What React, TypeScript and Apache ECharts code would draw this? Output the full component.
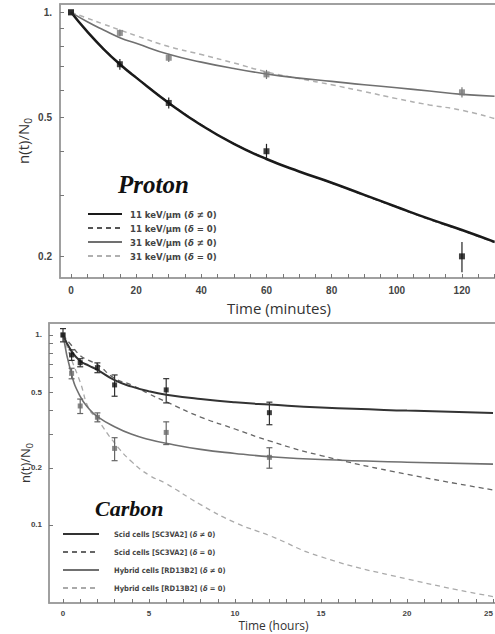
import React, { useEffect, useRef } from "react";
import * as echarts from "echarts";

// ---------- Proton panel (minutes) ----------
const protonTimes = [0, 15, 30, 60, 120];
const p11Values = [1.0, 0.71, 0.55, 0.4, 0.2];
const p11Err = [0, 0.025, 0.02, 0.02, 0.02];
const p31Values = [1.0, 0.873, 0.741, 0.664, 0.59];
const p31Err = [0, 0.02, 0.02, 0.02, 0.02];

const protonFitTimes = [0, 5, 10, 15, 20, 30, 40, 50, 60, 70, 80, 90, 100, 110, 120, 130];
const fit11Solid = [1, 0.88, 0.785, 0.71, 0.65, 0.55, 0.475, 0.42, 0.38, 0.35, 0.325, 0.3, 0.277, 0.256, 0.238, 0.22];
const fit11Dashed = [1, 0.88, 0.786, 0.712, 0.652, 0.552, 0.477, 0.421, 0.381, 0.35, 0.324, 0.299, 0.276, 0.255, 0.237, 0.219];
const fit31Solid = [1, 0.94, 0.89, 0.846, 0.815, 0.758, 0.72, 0.69, 0.666, 0.648, 0.634, 0.62, 0.608, 0.595, 0.582, 0.575];
const fit31Dashed = [1, 0.962, 0.925, 0.89, 0.857, 0.798, 0.757, 0.716, 0.675, 0.646, 0.62, 0.593, 0.566, 0.543, 0.524, 0.496];

const protonXLabels = [0, 20, 40, 60, 80, 100, 120];
const protonXTicks = [0, 5, 10, 15, 20, 25, 30, 35, 40, 45, 50, 55, 60, 65, 70, 75, 80, 85, 90, 95, 100, 105, 110, 115, 120, 125, 130];
const protonYLabels = [0.2, 0.5, 1];
const protonYTicks = [0.2, 0.3, 0.4, 0.5, 0.6, 0.7, 0.8, 0.9, 1];

const protonNames = [
  "11 keV/μm (δ ≠ 0)",
  "11 keV/μm (δ = 0)",
  "31 keV/μm (δ ≠ 0)",
  "31 keV/μm (δ = 0)",
];

// ---------- Carbon panel (hours) ----------
const carbonTimes = [0, 0.5, 1, 2, 3, 6, 12];
const scidValues = [1.0, 0.785, 0.715, 0.673, 0.546, 0.514, 0.39];
const scidErr = [0.08, 0.05, 0.035, 0.04, 0.07, 0.075, 0.053];
const hybridValues = [1.0, 0.628, 0.423, 0.369, 0.253, 0.307, 0.227];
const hybridErr = [0, 0.04, 0.037, 0.02, 0.035, 0.042, 0.028];

const carbonFitTimes = [0, 0.5, 1, 1.5, 2, 3, 4, 5, 6, 8, 10, 12, 15, 20, 25];
const scidSolid = [1, 0.82, 0.73, 0.69, 0.655, 0.578, 0.535, 0.505, 0.485, 0.46, 0.442, 0.43, 0.415, 0.4, 0.389];
const scidDashed = [1, 0.88, 0.78, 0.735, 0.7, 0.592, 0.545, 0.49, 0.445, 0.37, 0.32, 0.277, 0.232, 0.185, 0.153];
const hybridSolid = [1, 0.618, 0.475, 0.41, 0.372, 0.329, 0.3, 0.282, 0.269, 0.25, 0.238, 0.229, 0.221, 0.214, 0.209];
const hybridDashed = [1, 0.74, 0.565, 0.41, 0.36, 0.27, 0.215, 0.183, 0.165, 0.128, 0.103, 0.088, 0.068, 0.052, 0.042];

const carbonXLabels = [0, 5, 10, 15, 20, 25];
const carbonXTicks = [0, 1, 2, 3, 4, 5, 6, 7, 8, 9, 10, 11, 12, 13, 14, 15, 16, 17, 18, 19, 20, 21, 22, 23, 24, 25];
const carbonYLabels = [0.1, 0.2, 0.5, 1];
const carbonYTicks = [0.1, 0.2, 0.3, 0.4, 0.5, 0.6, 0.7, 0.8, 0.9, 1];

const carbonNames = [
  "Scid cells [SC3VA2] (δ ≠ 0)",
  "Scid cells [SC3VA2] (δ = 0)",
  "Hybrid cells [RD13B2] (δ ≠ 0)",
  "Hybrid cells [RD13B2] (δ = 0)",
];

const lg = (v: number) => Math.log10(v);
const pts = (xs: number[], ys: number[]) => xs.map((x, i) => [x, lg(ys[i])]);
const errs = (xs: number[], ys: number[], es: number[]) =>
  xs
    .map((x, i) => (es[i] > 0 ? [x, lg(ys[i] - es[i]), lg(ys[i] + es[i])] : null))
    .filter((d) => d !== null);

const labelFmt = (v: number) => {
  const r = Math.pow(10, v);
  if (Math.abs(r - 1) < 1e-6) return "1.";
  return String(Math.round(r * 10) / 10);
};

const TICK_FONT = '"Liberation Sans", Arial, sans-serif';
const NARROW = '"Liberation Sans Narrow", "Arial Narrow", "DejaVu Sans Condensed", "Liberation Sans", sans-serif';
const FRAME = "#9a9a9a";

function errorBar(cap: number, color: string, xi: number, yi: number) {
  return {
    type: "custom",
    xAxisIndex: xi,
    yAxisIndex: yi,
    encode: { x: 0, y: [1, 2] },
    z: 4,
    renderItem: (params: any, api: any) => {
      const x = api.value(0);
      const p1 = api.coord([x, api.value(1)]);
      const p2 = api.coord([x, api.value(2)]);
      const style = { stroke: color, lineWidth: 1.2 };
      const children: any[] = [
        { type: "line", shape: { x1: p1[0], y1: p1[1], x2: p2[0], y2: p2[1] }, style },
      ];
      if (cap > 0) {
        children.push({ type: "line", shape: { x1: p1[0] - cap, y1: p1[1], x2: p1[0] + cap, y2: p1[1] }, style });
        children.push({ type: "line", shape: { x1: p2[0] - cap, y1: p2[1], x2: p2[0] + cap, y2: p2[1] }, style });
      }
      return { type: "group", children };
    },
  };
}

export default function App() {
  const ref = useRef<HTMLDivElement>(null);
  useEffect(() => {
    if (!ref.current) return;
    const chart = echarts.init(ref.current, null, { renderer: "svg" });
    const frame = { show: true, borderColor: FRAME, borderWidth: 1.5, backgroundColor: "#fff", outerBoundsMode: "none", containLabel: false };
    const axisLine = { show: true, onZero: false, lineStyle: { color: FRAME, width: 1.5 } };
    const xAxisCommon = (labels: number[], ticks: number[], fs: number, margin: number) => ({
      type: "value",
      axisLine,
      splitLine: { show: false },
      axisTick: { show: true, inside: true, length: 4, customValues: ticks, lineStyle: { color: "#777" } },
      axisLabel: { customValues: labels, fontSize: fs, fontWeight: "bold", color: "#444", fontFamily: TICK_FONT, margin },
    });
    const yAxisCommon = (labels: number[], ticks: number[], fs: number, margin: number) => ({
      type: "value",
      axisLine,
      splitLine: { show: false },
      axisTick: { show: true, inside: true, length: 4, customValues: ticks.map(lg), lineStyle: { color: "#777" } },
      axisLabel: {
        customValues: labels.map(lg),
        formatter: labelFmt,
        fontSize: fs,
        fontWeight: "bold",
        color: "#444",
        fontFamily: TICK_FONT,
        margin,
      },
    });
    const topBorder = (gi: number, min: number, max: number) => ({
      type: "value",
      gridIndex: gi,
      position: "top",
      min,
      max,
      axisLine,
      axisTick: { show: false },
      axisLabel: { show: false },
      splitLine: { show: false },
    });
    const legendRich = (fs: number) => ({
      i: { fontStyle: "italic", fontWeight: "bold", fontSize: fs, color: "#444", fontFamily: NARROW },
    });
    const fmt = (name: string) => name.replace("δ", "{i|δ}");

    const line = (name: string, xs: number[], ys: number[], xi: number, color: string, width: number, dashed: boolean, z: number) => ({
      type: "line",
      name,
      xAxisIndex: xi,
      yAxisIndex: xi,
      data: pts(xs, ys),
      smooth: true,
      symbol: "none",
      lineStyle: { color, width, type: dashed ? [5, 4] : "solid" },
      itemStyle: { color },
      z,
    });
    const scatter = (name: string, xs: number[], ys: number[], xi: number, color: string, size: number) => ({
      type: "scatter",
      name,
      xAxisIndex: xi,
      yAxisIndex: xi,
      data: pts(xs, ys),
      symbol: "rect",
      symbolSize: size,
      itemStyle: { color },
      z: 5,
    });

    chart.setOption({
      animation: false,
      backgroundColor: "#fff",
      grid: [
        { left: 60, top: 4, right: -3, height: 274, ...frame },
        { left: 49, top: 323, right: -3, height: 280, ...frame },
      ],
      xAxis: [
        {
          gridIndex: 0,
          min: -3.376,
          max: 131.06,
          ...xAxisCommon(protonXLabels, protonXTicks, 10, 7),
          name: "Time (minutes)",
          nameLocation: "middle",
          nameGap: 22,
          nameMoveOverlap: false,
          nameTextStyle: { fontSize: 15, color: "#333", fontFamily: '"Open Sans", sans-serif' },
        },
        {
          gridIndex: 1,
          min: -0.814,
          max: 25.29,
          ...xAxisCommon(carbonXLabels, carbonXTicks, 8, 6),
          axisLabel: {
            customValues: carbonXLabels,
            fontSize: 8,
            fontWeight: "bold",
            color: "#444",
            fontFamily: TICK_FONT,
            margin: 6,
            alignMaxLabel: "right",
          },
          name: "Time (hours)",
          nameLocation: "middle",
          nameGap: 16,
          nameMoveOverlap: false,
          nameTextStyle: { fontSize: 12, color: "#333", fontFamily: '"Open Sans", sans-serif' },
        },
        topBorder(0, -3.376, 131.06),
        topBorder(1, -0.814, 25.29),
      ],
      yAxis: [
        {
          gridIndex: 0,
          min: -0.761,
          max: 0.0238,
          ...yAxisCommon(protonYLabels, protonYTicks, 10, 8),
          name: "{a|n(t)/N}{b|0}",
          nameLocation: "middle",
          nameGap: 27,
          nameMoveOverlap: false,
          nameTextStyle: {
            rich: {
              a: { fontSize: 15, color: "#333", fontFamily: '"Open Sans", sans-serif', lineHeight: 20 },
              b: { fontSize: 10, color: "#333", fontFamily: '"Open Sans", sans-serif', verticalAlign: "bottom", lineHeight: 20, padding: [6, 0, 0, 0] },
            },
          },
        },
        {
          gridIndex: 1,
          min: -1.4105,
          max: 0.063,
          ...yAxisCommon(carbonYLabels, carbonYTicks, 8, 7),
          name: "{a|n(t)/N}{b|0}",
          nameLocation: "middle",
          nameGap: 15,
          nameMoveOverlap: false,
          nameTextStyle: {
            rich: {
              a: { fontSize: 13, color: "#333", fontFamily: '"Open Sans", sans-serif', lineHeight: 18 },
              b: { fontSize: 9, color: "#333", fontFamily: '"Open Sans", sans-serif', verticalAlign: "bottom", lineHeight: 18, padding: [5, 0, 0, 0] },
            },
          },
        },
      ],
      legend: [
        {
          data: protonNames,
          orient: "vertical",
          left: 87,
          top: 209,
          padding: 0,
          itemWidth: 34,
          itemHeight: 10,
          itemGap: 4,
          formatter: fmt,
          itemStyle: { opacity: 0 },
          textStyle: { fontSize: 9.5, fontWeight: "bold", color: "#444", fontFamily: NARROW, padding: [0, 0, 0, 3], rich: legendRich(9.5) },
          selectedMode: false,
        },
        {
          data: carbonNames,
          orient: "vertical",
          left: 62,
          top: 530,
          padding: 0,
          itemWidth: 36,
          itemHeight: 10,
          itemGap: 10,
          formatter: fmt,
          itemStyle: { opacity: 0 },
          textStyle: { fontSize: 7.5, fontWeight: "bold", color: "#444", fontFamily: NARROW, padding: [0, 0, 0, 10], rich: legendRich(7.5) },
          selectedMode: false,
        },
      ],
      graphic: [
        {
          type: "text",
          left: 118,
          top: 172,
          style: { text: "Proton", font: 'italic bold 25px "Liberation Serif", "Times New Roman", serif', fill: "#111" },
        },
        {
          type: "text",
          left: 95,
          top: 497,
          style: { text: "Carbon", font: 'italic bold 22px "Liberation Serif", "Times New Roman", serif', fill: "#111" },
        },
      ],
      series: [
        line(protonNames[3], protonFitTimes, fit31Dashed, 0, "#b0b0b0", 1.5, true, 2),
        line(protonNames[1], protonFitTimes, fit11Dashed, 0, "#555555", 1.2, true, 2),
        line(protonNames[2], protonFitTimes, fit31Solid, 0, "#707070", 1.6, false, 3),
        line(protonNames[0], protonFitTimes, fit11Solid, 0, "#1a1a1a", 2.5, false, 3),
        { ...errorBar(0, "#777", 0, 0), name: "err31", data: errs(protonTimes, p31Values, p31Err) },
        { ...errorBar(0, "#222", 0, 0), name: "err11", data: errs(protonTimes, p11Values, p11Err) },
        scatter("31 keV data", protonTimes, p31Values, 0, "#7a7a7a", 6),
        scatter("11 keV data", protonTimes, p11Values, 0, "#111", 6),

        line(carbonNames[3], carbonFitTimes, hybridDashed, 1, "#aaaaaa", 1.3, true, 2),
        line(carbonNames[1], carbonFitTimes, scidDashed, 1, "#666666", 1.3, true, 2),
        line(carbonNames[2], carbonFitTimes, hybridSolid, 1, "#707070", 1.6, false, 3),
        line(carbonNames[0], carbonFitTimes, scidSolid, 1, "#333333", 2, false, 3),
        { ...errorBar(3, "#666", 1, 1), name: "errHybrid", data: errs(carbonTimes, hybridValues, hybridErr) },
        { ...errorBar(3, "#333", 1, 1), name: "errScid", data: errs(carbonTimes, scidValues, scidErr) },
        scatter("Hybrid data", carbonTimes, hybridValues, 1, "#6a6a6a", 5),
        scatter("Scid data", carbonTimes, scidValues, 1, "#111", 5),
      ],
    });
    return () => chart.dispose();
  }, []);
  return <div ref={ref} style={{ position: "absolute", left: 0, top: 0, width: 495, height: 634 }} />;
}
